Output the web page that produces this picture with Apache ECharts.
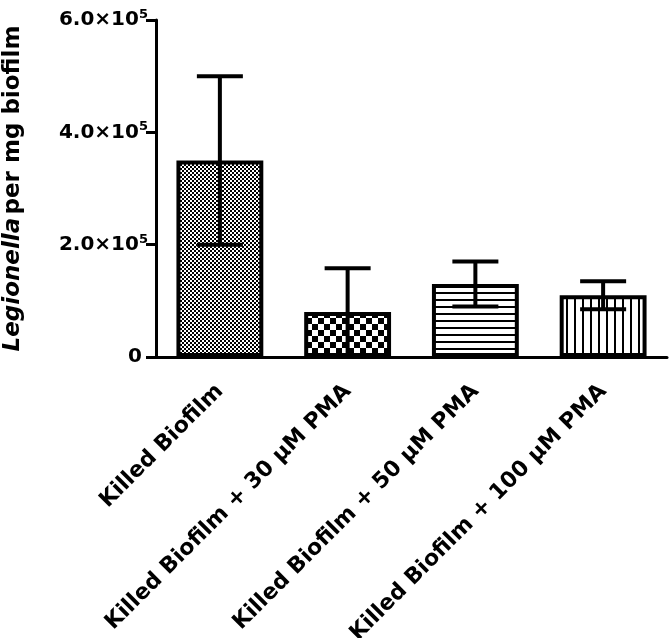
<!DOCTYPE html>
<html>
<head>
<meta charset="utf-8">
<script src="https://cdn.jsdelivr.net/npm/echarts@6/dist/echarts.min.js"></script>
<style>
  html, body { margin: 0; padding: 0; background: #fff; }
  #main { width: 671px; height: 638px; }
</style>
</head>
<body>
<div id="main"></div>
<script>
// data
var categories = ['Killed Biofilm', 'Killed Biofilm + 30 μM PMA', 'Killed Biofilm + 50 μM PMA', 'Killed Biofilm + 100 μM PMA'];
var means = [350000, 80000, 130000, 110000];
var sds = [150000, 78000, 40000, 25000];
var yTicks = [0, 200000, 400000, 600000];

// fill patterns
function makePattern(kind) {
  var c = document.createElement('canvas');
  var ctx;
  if (kind === 'fine') {
    c.width = 4; c.height = 4;
    ctx = c.getContext('2d');
    ctx.fillStyle = '#fff'; ctx.fillRect(0, 0, 4, 4);
    ctx.fillStyle = '#000';
    ctx.fillRect(0, 0, 2, 2); ctx.fillRect(2, 2, 2, 2);
  } else if (kind === 'coarse') {
    c.width = 12; c.height = 12;
    ctx = c.getContext('2d');
    ctx.fillStyle = '#fff'; ctx.fillRect(0, 0, 12, 12);
    ctx.fillStyle = '#000';
    ctx.fillRect(0, 0, 6, 6); ctx.fillRect(6, 6, 6, 6);
  } else if (kind === 'hlines') {
    c.width = 7; c.height = 7;
    ctx = c.getContext('2d');
    ctx.fillStyle = '#fff'; ctx.fillRect(0, 0, 7, 7);
    ctx.fillStyle = '#000'; ctx.fillRect(0, 5, 7, 2);
  } else {
    c.width = 8; c.height = 8;
    ctx = c.getContext('2d');
    ctx.fillStyle = '#fff'; ctx.fillRect(0, 0, 8, 8);
    ctx.fillStyle = '#000'; ctx.fillRect(6, 0, 2, 8);
  }
  return { image: c, repeat: 'repeat' };
}
var patterns = [makePattern('fine'), makePattern('coarse'), makePattern('hlines'), makePattern('vlines')];

var barData = means.map(function (v, i) {
  return { value: v, itemStyle: { color: patterns[i] } };
});
var errData = means.map(function (v, i) {
  return [i, v - sds[i], v + sds[i]];
});

var chart = echarts.init(document.getElementById('main'));
var font = 'DejaVu Sans, Verdana, sans-serif';

chart.setOption({
  animation: false,
  grid: { left: 156, right: 4, top: 20, bottom: 281, containLabel: false, outerBoundsMode: 'none' },
  xAxis: {
    type: 'category',
    data: categories,
    axisLine: { lineStyle: { color: '#000', width: 3 } },
    axisTick: { alignWithLabel: true, length: 10, lineStyle: { color: '#000', width: 2 } },
    axisLabel: {
      rotate: 45, interval: 0, margin: 31,
      color: '#000', fontFamily: font, fontWeight: 'bold', fontSize: 22
    }
  },
  yAxis: {
    type: 'value',
    min: yTicks[0], max: yTicks[yTicks.length - 1], interval: yTicks[1] - yTicks[0],
    splitLine: { show: false },
    axisLine: { show: true, lineStyle: { color: '#000', width: 3 } },
    axisTick: { show: true, length: 10, lineStyle: { color: '#000', width: 3 } },
    axisLabel: {
      color: '#000', margin: 8,
      formatter: function (v) {
        if (v === 0) return '{z|0}';
        return '{a|' + (v / 1e5).toFixed(1) + '×10}{s|5}';
      },
      rich: {
        z: { fontFamily: font, fontWeight: 'bold', fontSize: 20, color: '#000', lineHeight: 24, padding: [0, 6, 0, 0] },
        a: { fontFamily: font, fontWeight: 'bold', fontSize: 20, color: '#000', lineHeight: 24 },
        s: { fontFamily: font, fontWeight: 'bold', fontSize: 13, color: '#000', verticalAlign: 'top', lineHeight: 24, padding: [0, 0, 10, 0] }
      }
    },
    name: '{i|Legionella} {n|per mg biofilm}',
    nameLocation: 'middle',
    nameGap: 131,
    nameRotate: 90,
    nameTextStyle: {
      rich: {
        i: { fontFamily: font, fontWeight: 'bold', fontStyle: 'italic', fontSize: 23, color: '#000' },
        n: { fontFamily: font, fontWeight: 'bold', fontSize: 23, color: '#000' }
      }
    }
  },
  series: [
    {
      type: 'bar',
      data: barData,
      barWidth: '68%',
      itemStyle: { borderColor: '#000', borderWidth: 4 }
    },
    {
      type: 'custom',
      data: errData,
      z: 10,
      renderItem: function (params, api) {
        var x = api.value(0);
        var lo = api.coord([x, api.value(1)]);
        var hi = api.coord([x, api.value(2)]);
        var half = 23;
        var style = { stroke: '#000', lineWidth: 4 };
        return {
          type: 'group',
          children: [
            { type: 'line', shape: { x1: hi[0], y1: hi[1], x2: lo[0], y2: lo[1] }, style: style },
            { type: 'line', shape: { x1: hi[0] - half, y1: hi[1], x2: hi[0] + half, y2: hi[1] }, style: style },
            { type: 'line', shape: { x1: lo[0] - half, y1: lo[1], x2: lo[0] + half, y2: lo[1] }, style: style }
          ]
        };
      }
    }
  ]
});
</script>
</body>
</html>
